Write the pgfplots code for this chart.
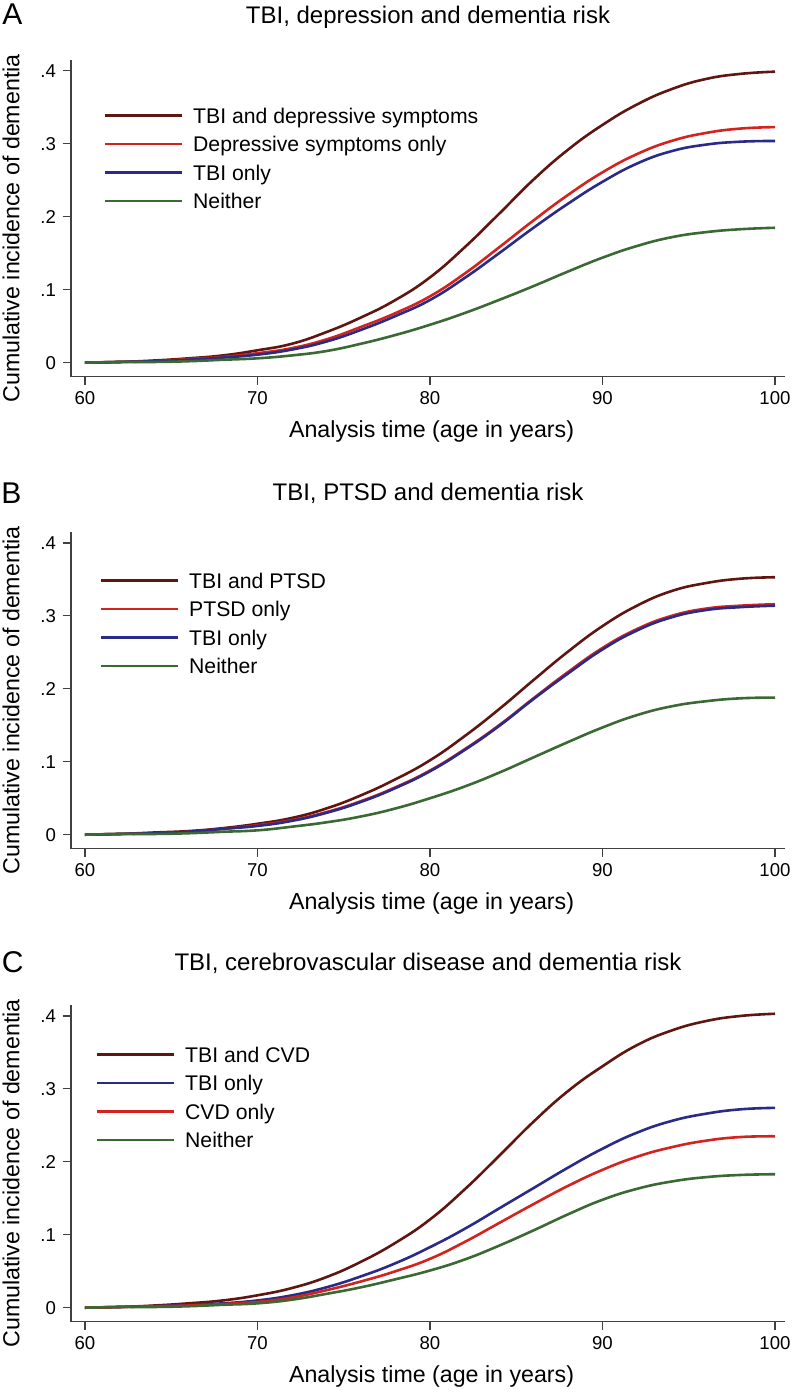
\documentclass[border=0pt]{standalone}
\usepackage{fontspec}
\setmainfont{Liberation Sans}
\usepackage{pgfplots}
\pgfplotsset{compat=1.18}
\definecolor{cDR}{RGB}{95,22,16}
\definecolor{cR}{RGB}{210,35,30}
\definecolor{cB}{RGB}{42,42,135}
\definecolor{cG}{RGB}{58,105,52}
\pgfplotsset{
  km/.style={
    scale only axis, width=357pt, height=158.35pt,
    xmin=59.19, xmax=100.58, ymin=-0.0192, ymax=0.415,
    axis x line=bottom, axis y line=left,
    axis line style={-, draw=black!75, line width=0.55pt},
    tick align=outside, major tick length=4pt,
    tick style={draw=black!75, line width=0.55pt},
    xtick={60,70,80,90,100},
    ytick={0,0.1,0.2,0.3,0.4}, yticklabels={0,.1,.2,.3,.4},
    /pgf/number format/assume math mode=true,
    tick label style={font=\fontsize{9.3}{11}\selectfont},
    xlabel={Analysis time (age in years)},
    ylabel={Cumulative incidence of dementia},
    label style={font=\fontsize{11.6}{13}\selectfont},
    xlabel style={at={(axis description cs:0.505,0)}, anchor=base, yshift=-30.6pt},
    ylabel style={at={(axis description cs:-0.084,0.468)}, anchor=center},
    title style={at={(axis description cs:0.5,1)}, anchor=base, font=\fontsize{12}{14}\selectfont},
    legend style={anchor=north west, draw=none, fill=none, inner sep=0pt,
      row sep=6.65pt, column sep=5pt, font=\fontsize{10.6}{12}\selectfont,
      nodes={inner sep=0pt, text height=7.6pt, text depth=0pt}},
    legend cell align=left,
    legend image code/.code={\draw[#1, line width=1.4pt] (0pt,0pt) -- (38.5pt,0pt);},
    every axis plot/.append style={line width=1.3pt, smooth, tension=0.75},
  }
}
\begin{document}
\begin{tikzpicture}
\useasboundingbox (0,0) rectangle (400pt,-698pt);
% ---------------- Panel A
\begin{axis}[km, at={(35.5pt,-188.35pt)}, anchor=south west,
  title={TBI, depression and dementia risk}, title style={yshift=12.35pt},
  legend style={at={(axis description cs:0.0448,0.850)}}]
\addplot[cDR] coordinates {(60,0) (62,0.001) (64,0.003) (66,0.006) (68,0.010) (70,0.017) (72,0.026) (74,0.042) (76,0.062) (78,0.086) (80,0.117) (82,0.158) (84,0.204) (86,0.251) (88,0.292) (90,0.326) (92,0.354) (94,0.375) (96,0.389) (98,0.396) (100,0.399)};
\addlegendentry{TBI and depressive symptoms}
\addplot[cR] coordinates {(60,0) (62,0.001) (64,0.002) (66,0.005) (68,0.008) (70,0.013) (72,0.020) (74,0.032) (76,0.049) (78,0.068) (80,0.091) (82,0.122) (84,0.158) (86,0.195) (88,0.230) (90,0.261) (92,0.286) (94,0.304) (96,0.315) (98,0.321) (100,0.323)};
\addlegendentry{Depressive symptoms only}
\addplot[cB] coordinates {(60,0) (62,0.001) (64,0.002) (66,0.004) (68,0.007) (70,0.011) (72,0.018) (74,0.029) (76,0.045) (78,0.064) (80,0.086) (82,0.116) (84,0.150) (86,0.185) (88,0.218) (90,0.248) (92,0.273) (94,0.290) (96,0.299) (98,0.303) (100,0.304)};
\addlegendentry{TBI only}
\addplot[cG] coordinates {(60,0) (62,0.001) (64,0.001) (66,0.002) (68,0.004) (70,0.006) (72,0.010) (74,0.016) (76,0.026) (78,0.038) (80,0.052) (82,0.068) (84,0.086) (86,0.105) (88,0.125) (90,0.144) (92,0.160) (94,0.172) (96,0.179) (98,0.183) (100,0.185)};
\addlegendentry{Neither}
\end{axis}
% ---------------- Panel B
\begin{axis}[km, at={(35.5pt,-424.35pt)}, anchor=south west,
  title={TBI, PTSD and dementia risk}, title style={yshift=10pt},
  legend style={at={(axis description cs:0.0392,0.872)}}]
\addplot[cDR] coordinates {(60,0) (62,0.001) (64,0.003) (66,0.005) (68,0.009) (70,0.015) (72,0.023) (74,0.036) (76,0.054) (78,0.076) (80,0.102) (82,0.135) (84,0.172) (86,0.212) (88,0.251) (90,0.286) (92,0.314) (94,0.334) (96,0.345) (98,0.351) (100,0.353)};
\addlegendentry{TBI and PTSD}
\addplot[cR] coordinates {(60,0) (62,0.001) (64,0.002) (66,0.004) (68,0.008) (70,0.013) (72,0.020) (74,0.031) (76,0.046) (78,0.065) (80,0.088) (82,0.117) (84,0.150) (86,0.187) (88,0.223) (90,0.256) (92,0.282) (94,0.300) (96,0.310) (98,0.314) (100,0.316)};
\addlegendentry{PTSD only}
\addplot[cB] coordinates {(60,0) (62,0.001) (64,0.002) (66,0.004) (68,0.008) (70,0.012) (72,0.019) (74,0.030) (76,0.045) (78,0.064) (80,0.087) (82,0.116) (84,0.149) (86,0.186) (88,0.221) (90,0.254) (92,0.280) (94,0.298) (96,0.308) (98,0.312) (100,0.314)};
\addlegendentry{TBI only}
\addplot[cG] coordinates {(60,0) (62,0.001) (64,0.001) (66,0.002) (68,0.004) (70,0.006) (72,0.011) (74,0.017) (76,0.025) (78,0.036) (80,0.050) (82,0.066) (84,0.085) (86,0.106) (88,0.127) (90,0.147) (92,0.164) (94,0.176) (96,0.183) (98,0.187) (100,0.188)};
\addlegendentry{Neither}
\end{axis}
% ---------------- Panel C
\begin{axis}[km, at={(35.5pt,-660.85pt)}, anchor=south west,
  title={TBI, cerebrovascular disease and dementia risk}, title style={yshift=11.5pt},
  legend style={at={(axis description cs:0.0336,0.869)}}]
\addplot[cDR] coordinates {(60,0) (62,0.001) (64,0.003) (66,0.006) (68,0.010) (70,0.017) (72,0.027) (74,0.042) (76,0.063) (78,0.089) (80,0.121) (82,0.162) (84,0.208) (86,0.255) (88,0.297) (90,0.331) (92,0.360) (94,0.380) (96,0.393) (98,0.400) (100,0.403)};
\addlegendentry{TBI and CVD}
\addplot[cB] coordinates {(60,0) (62,0.001) (64,0.002) (66,0.004) (68,0.006) (70,0.010) (72,0.017) (74,0.028) (76,0.043) (78,0.061) (80,0.083) (82,0.108) (84,0.136) (86,0.164) (88,0.192) (90,0.218) (92,0.240) (94,0.256) (96,0.266) (98,0.272) (100,0.274)};
\addlegendentry{TBI only}
\addplot[cR] coordinates {(60,0) (62,0.001) (64,0.002) (66,0.003) (68,0.005) (70,0.008) (72,0.014) (74,0.024) (76,0.036) (78,0.050) (80,0.067) (82,0.090) (84,0.116) (86,0.142) (88,0.167) (90,0.189) (92,0.207) (94,0.220) (96,0.229) (98,0.234) (100,0.235)};
\addlegendentry{CVD only}
\addplot[cG] coordinates {(60,0) (62,0.001) (64,0.001) (66,0.002) (68,0.004) (70,0.006) (72,0.011) (74,0.019) (76,0.028) (78,0.039) (80,0.051) (82,0.066) (84,0.085) (86,0.106) (88,0.128) (90,0.148) (92,0.163) (94,0.173) (96,0.179) (98,0.182) (100,0.183)};
\addlegendentry{Neither}
\end{axis}
\node[anchor=base west, font=\fontsize{15}{17}\selectfont, inner sep=0pt] at (1pt,-12.5pt) {A};
\node[anchor=base west, font=\fontsize{15}{17}\selectfont, inner sep=0pt] at (0.5pt,-251.5pt) {B};
\node[anchor=base west, font=\fontsize{15}{17}\selectfont, inner sep=0pt] at (0.8pt,-486.3pt) {C};
\end{tikzpicture}
\end{document}
